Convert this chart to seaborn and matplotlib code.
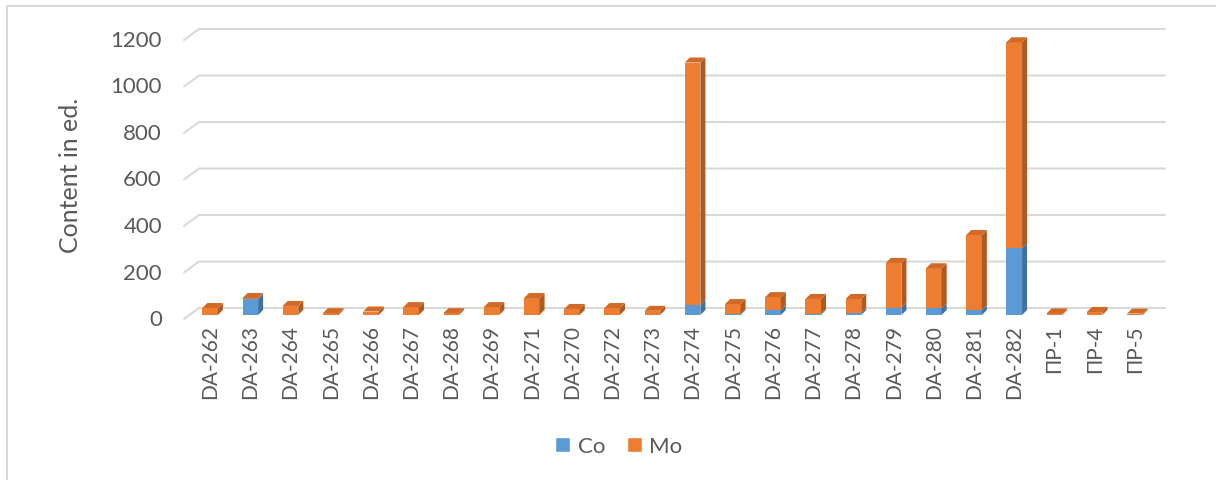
import numpy as np
import pandas as pd
import matplotlib
matplotlib.use('Agg')
import matplotlib.pyplot as plt
from matplotlib.patches import Polygon, Patch
from matplotlib.lines import Line2D
import seaborn as sns

# Samples and content values
samples = ['DA-262', 'DA-263', 'DA-264', 'DA-265', 'DA-266', 'DA-267', 'DA-268', 'DA-269',
           'DA-271', 'DA-270', 'DA-272', 'DA-273', 'DA-274', 'DA-275', 'DA-276', 'DA-277',
           'DA-278', 'DA-279', 'DA-280', 'DA-281', 'DA-282', 'ПР-1', 'ПР-4', 'ПР-5']
co = [1, 70, 2, 1, 1, 1, 1, 1, 2, 1, 1, 1, 43, 3, 21, 4, 10, 31, 29, 21, 287, 1, 1, 1]
mo = [29, 3, 37, 7, 14, 33, 7, 33, 71, 25, 29, 17, 1043, 44, 56, 65, 59, 193, 172, 323, 886, 6, 12, 5]
y_ticks = [0, 200, 400, 600, 800, 1000, 1200]

df = pd.DataFrame({'Sample': samples, 'Co': co, 'Mo': mo})
df['Total'] = df['Co'] + df['Mo']

sns.set_theme(style='white')
plt.rcParams['font.family'] = ['Lato', 'Open Sans', 'DejaVu Sans']
text_col = '#595959'

blue, orange = '#5B9BD5', '#ED7D31'
blue_side, orange_side = '#41719C', '#AE5A21'
orange_top = '#D06A26'
grid_col = '#D9D9D9'

W, H, dpi = 1216, 481, 100
fig = plt.figure(figsize=(W / dpi, H / dpi), dpi=dpi)

# plot area in pixels
x0_px, x1_px = 190, 1155
y0_px = 316            # value 0 at bar front bottom
px_per_unit = 0.2325
ymax = 1250
top_px = y0_px - ymax * px_per_unit
ax = fig.add_axes([x0_px / W, 1 - y0_px / H, (x1_px - x0_px) / W, (y0_px - top_px) / H])

slot = (x1_px - x0_px) / len(samples)
bar_w = 15.6 / slot
dx = 5 / slot                  # depth offset in category units
dy = 5 / px_per_unit           # depth offset in value units

# stacked bars: total (Mo colour) then Co over it
sns.barplot(data=df, x='Sample', y='Total', color=orange, width=bar_w, saturation=1,
            edgecolor='none', ax=ax, zorder=3)
sns.barplot(data=df, x='Sample', y='Co', color=blue, width=bar_w, saturation=1,
            edgecolor='none', ax=ax, zorder=3)

# 3D side and top faces
for i, row in df.iterrows():
    xr = i + bar_w / 2
    xl = i - bar_w / 2
    segs = [(0, row['Co'], blue_side), (row['Co'], row['Total'], orange_side)]
    for b, t, c in segs:
        if t - b <= 0:
            continue
        ax.add_patch(Polygon([(xr, b), (xr + dx, b + dy), (xr + dx, t + dy), (xr, t)],
                             closed=True, facecolor=c, edgecolor='none', zorder=3, clip_on=False))
    T = row['Total']
    ax.add_patch(Polygon([(xl, T), (xr, T), (xr + dx, T + dy), (xl + dx, T + dy)],
                         closed=True, facecolor=orange_top, edgecolor='none', zorder=3, clip_on=False))

# back wall gridlines with the slanted floor edge on the left
back_dx = (199 - x0_px) / slot
back_dy = 7 / px_per_unit
front_dx = (184 - x0_px) / slot
front_dy = -4 / px_per_unit
x_end = -0.5 + (1165 - x0_px) / slot
for v in y_ticks:
    ax.add_line(Line2D([-0.5 + front_dx, -0.5 + back_dx, x_end],
                       [v + front_dy, v + back_dy, v + back_dy],
                       color=grid_col, lw=1.5, zorder=1, clip_on=False))
    ax.annotate(str(v), xy=(0, v), xycoords=('axes fraction', 'data'),
                xytext=(-28, -4), textcoords='offset pixels', ha='right', va='center',
                fontsize=16, color=text_col)

ax.set_xlim(-0.5, len(samples) - 0.5)
ax.set_ylim(0, ymax)
ax.set_yticks([])
ax.set_xticks(range(len(samples)))
ax.set_xticklabels(samples, rotation=90, fontsize=15, color=text_col)
ax.tick_params(axis='x', length=0, pad=6.5)
ax.set_xlabel('')
ax.set_ylabel('')
for s in ax.spines.values():
    s.set_visible(False)
ax.patch.set_alpha(0)

fig.text(71 / W, 1 - 175 / H, 'Content in ed.', rotation=90, ha='center', va='center',
         fontsize=18, color=text_col)

handles = [Patch(facecolor=blue, label='Co'), Patch(facecolor=orange, label='Mo')]
fig.legend(handles=handles, loc='center', bbox_to_anchor=(619 / W, 1 - 447 / H), ncol=2,
           frameon=False, fontsize=16, handlelength=0.65, handleheight=0.65,
           handletextpad=0.35, columnspacing=1.0, labelcolor=text_col)

# chart border (top and left edges visible)
fig.add_artist(Line2D([7 / W, 7 / W, 1.0], [0.0, 1 - 7 / H, 1 - 7 / H],
                      transform=fig.transFigure, color=grid_col, lw=1.5))

fig.savefig('out.png', dpi=dpi, facecolor='white')
